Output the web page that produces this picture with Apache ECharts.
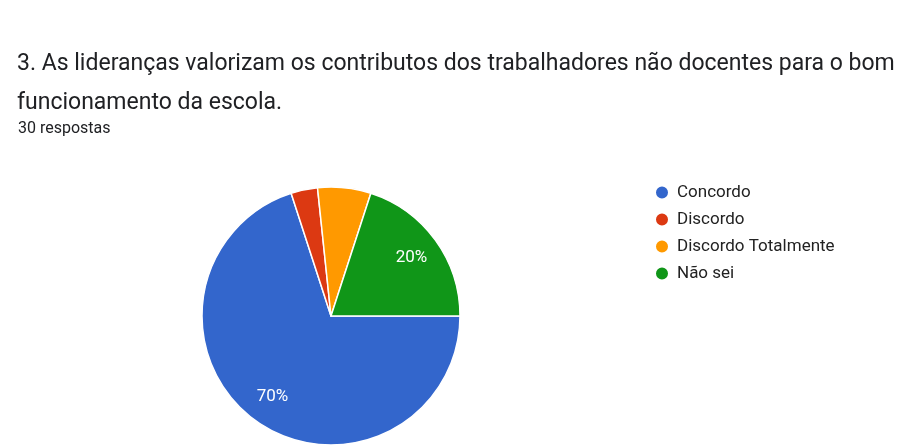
<!DOCTYPE html>
<html><head><meta charset="utf-8">
<script src="https://cdn.jsdelivr.net/npm/echarts@6/dist/echarts.min.js"></script>
<style>html,body{margin:0;padding:0;background:#fff}#c{width:904px;height:446px}</style>
</head><body><div id="c"></div>
<script>
const titleLines = ['3. As lideranças valorizam os contributos dos trabalhadores não docentes para o bom', 'funcionamento da escola.'];
const subtitleText = '30 respostas';
const categories = ['Concordo', 'Discordo', 'Discordo Totalmente', 'Não sei'];
const counts = [21, 1, 2, 6];
const colors = ['#3366cc', '#dc3912', '#ff9900', '#109618'];

const data = categories.map((n, i) => ({ name: n, value: counts[i] }));
const chart = echarts.init(document.getElementById('c'));
chart.setOption({
  backgroundColor: '#fff',
  animation: false,
  color: colors,
  title: [
    { text: titleLines.join('\n'), left: 17, top: 45, padding: 0,
      textStyle: { fontFamily: 'Roboto', fontSize: 23, fontWeight: 'normal', color: '#202124', lineHeight: 39 } },
    { text: subtitleText, left: 18, top: 121, padding: 0,
      textStyle: { fontFamily: 'Roboto', fontSize: 16, fontWeight: 'normal', color: '#202124' } }
  ],
  legend: {
    orient: 'vertical', left: 654, top: 184, icon: 'circle', padding: 0,
    itemWidth: 14, itemHeight: 14, itemGap: 10,
    textStyle: { fontFamily: 'Roboto', fontSize: 17, color: '#222', padding: [0, 0, 0, 3] },
    data: categories
  },
  series: [
    { type: 'pie', center: [331, 316], radius: [0, 129], startAngle: 0, clockwise: true,
      data: data, label: { show: false }, labelLine: { show: false },
      itemStyle: { borderColor: '#fff', borderWidth: 1.5 }, emphasis: { disabled: true } },
    { type: 'pie', center: [331, 316], radius: [64, 129], startAngle: 0, clockwise: true, silent: true,
      data: data, itemStyle: { color: 'rgba(0,0,0,0)' }, labelLine: { show: false },
      label: { show: true, position: 'inside', color: '#fff', fontFamily: 'Roboto', fontSize: 17,
        formatter: p => p.percent >= 10 ? Math.round(p.percent) + '%' : '' } }
  ]
});
</script></body></html>
